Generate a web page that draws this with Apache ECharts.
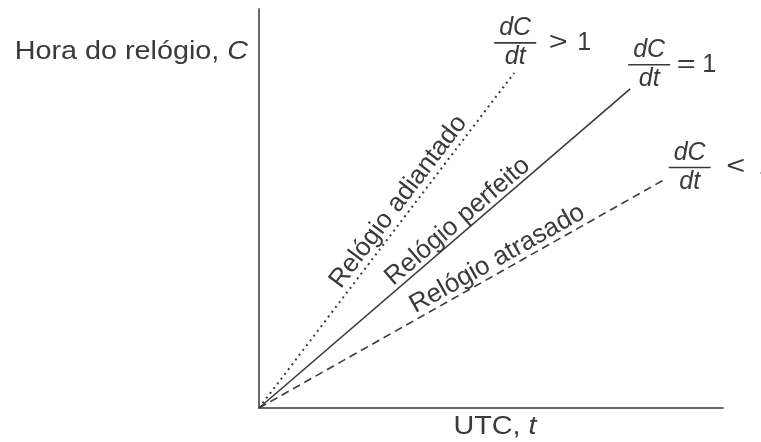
<!DOCTYPE html>
<html><head><meta charset="utf-8">
<script src="https://cdn.jsdelivr.net/npm/echarts@6/dist/echarts.min.js"></script>
<style>html,body{margin:0;padding:0;background:#fff}#c{width:761px;height:442px}</style>
</head><body><div id="c"></div>
<script>
// ---- data ----
const seriesNames = ['Relógio adiantado', 'Relógio perfeito', 'Relógio atrasado'];
const startPoint = [0, 0];
const endPoints = [[55, 84], [80, 80], [87, 57]];
const relationSymbols = ['>', '=', '<'];
const relationValue = '1';
const xAxisTitle = ['UTC, ', 't'];
const yAxisTitle = ['Hora do relógio, ', 'C'];
const axisRange = [0, 100];

// ---- style / layout ----
const FONT = '"Liberation Sans", Arial, Helvetica, sans-serif';
const INK = '#3a3a3a';
const FS = 25;
const TITLE_STRETCH = 1.15;
const lineTypes = [[2, 4], 'solid', [8, 5]];
const lineWidths = [2, 1.6, 1.6];
const labelLayout = [ {t: 0.59, off: 14}, {t: 0.556, off: 12}, {t: 0.606, off: 13} ];
const fracLayout = [ {dx: 1, dy: -30, sym: 22, one: 48}, {dx: 19, dy: -24, sym: 16, one: 39}, {dx: 27, dy: -13, sym: 25, one: 55} ];

const chart = echarts.init(document.getElementById('c'));
const axisCommon = {
  type: 'value', min: axisRange[0], max: axisRange[1],
  axisLine: {show: true, onZero: false, lineStyle: {color: '#6b6b6b', width: 2}},
  axisTick: {show: false}, axisLabel: {show: false}, splitLine: {show: false}
};
chart.setOption({
  animation: false,
  backgroundColor: '#fff',
  grid: {left: 259, right: 38, top: 9, bottom: 34},
  xAxis: Object.assign({}, axisCommon),
  yAxis: Object.assign({}, axisCommon),
  series: endPoints.map((e, i) => ({
    name: seriesNames[i], type: 'line', data: [startPoint, e],
    symbol: 'none', silent: true,
    lineStyle: {color: INK, width: lineWidths[i], type: lineTypes[i], cap: 'butt'}
  }))
});

const px = p => chart.convertToPixel({xAxisIndex: 0, yAxisIndex: 0}, p);
const richTitle = parts => ({
  text: '{n|' + parts[0] + '}{i|' + parts[1] + '}',
  font: FS + 'px ' + FONT, fill: INK,
  rich: {n: {fontFamily: FONT, fontSize: FS, fill: INK}, i: {fontFamily: FONT, fontSize: FS, fill: INK, fontStyle: 'italic'}}
});
const g = [];
// y-axis title (left of axis, near top)
const yT = px([0, 89.3]);
g.push({type: 'text', x: yT[0] - 11, y: yT[1], scaleX: TITLE_STRETCH,
  style: Object.assign(richTitle(yAxisTitle), {align: 'right', verticalAlign: 'middle'})});
// x-axis title (centered under axis)
const xT = px([(axisRange[0] + axisRange[1]) / 2, 0]);
g.push({type: 'text', x: xT[0] + 4, y: xT[1] + 19, scaleX: TITLE_STRETCH,
  style: Object.assign(richTitle(xAxisTitle), {align: 'center', verticalAlign: 'middle'})});

endPoints.forEach((e, i) => {
  const p0 = px(startPoint), p1 = px(e);
  const ang = Math.atan2(p0[1] - p1[1], p1[0] - p0[0]);
  const L = labelLayout[i];
  const cx = p0[0] + (p1[0] - p0[0]) * L.t - Math.sin(ang) * L.off;
  const cy = p0[1] + (p1[1] - p0[1]) * L.t - Math.cos(ang) * L.off;
  g.push({type: 'text', x: cx, y: cy, rotation: ang, style: {
    text: seriesNames[i], align: 'center', verticalAlign: 'middle', font: (FS + 1) + 'px ' + FONT, fill: INK
  }});
  // fraction dC/dt
  const F = fracLayout[i];
  const bx = p1[0] + F.dx, by = p1[1] + F.dy;
  const half = 21;
  g.push({type: 'line', shape: {x1: bx - half, y1: by, x2: bx + half, y2: by}, style: {stroke: INK, lineWidth: 1.6}});
  g.push({type: 'text', x: bx, y: by - 2, style: {text: 'dC', align: 'center', verticalAlign: 'bottom', font: 'italic ' + FS + 'px ' + FONT, fill: INK}});
  g.push({type: 'text', x: bx, y: by + 2, style: {text: 'dt', align: 'center', verticalAlign: 'top', font: 'italic ' + FS + 'px ' + FONT, fill: INK}});
  g.push({type: 'text', x: bx + half + F.sym, y: by, scaleX: 1.3, style: {text: relationSymbols[i], align: 'center', verticalAlign: 'middle', font: FS + 'px ' + FONT, fill: INK}});
  g.push({type: 'text', x: bx + half + F.one, y: by, style: {text: relationValue, align: 'center', verticalAlign: 'middle', font: FS + 'px ' + FONT, fill: INK}});
});
chart.setOption({graphic: g});
</script></body></html>
